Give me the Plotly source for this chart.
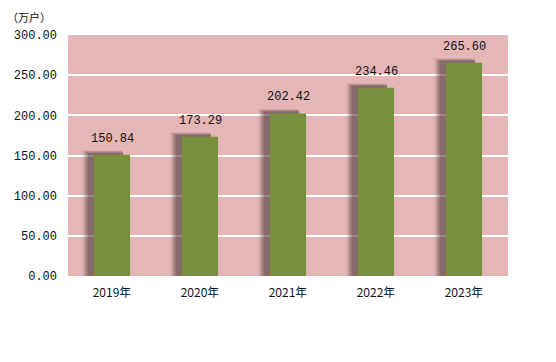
import plotly.graph_objects as go

years = ["2019年", "2020年", "2021年", "2022年", "2023年"]
values = [150.84, 173.29, 202.42, 234.46, 265.60]
labels = ["150.84", "173.29", "202.42", "234.46", "265.60"]

W = 0.41
fig = go.Figure()

# blurred shadow, approximated with stacked translucent bars
shadow_layers = [(-0.335, 0.45, 5.5, 0.10), (-0.32, 0.44, 4.8, 0.12), (-0.305, 0.43, 4.0, 0.15),
                 (-0.29, 0.42, 3.2, 0.20), (-0.275, 0.40, 2.4, 0.25)]
for off, w, dy, op in shadow_layers:
    fig.add_trace(go.Bar(
        x=years, y=[v + dy for v in values], offset=off, width=w,
        marker=dict(color=f"rgba(80,55,60,{op})", line=dict(width=0)),
        hoverinfo="skip", showlegend=False))

fig.add_trace(go.Bar(
    x=years, y=values, width=W,
    marker=dict(color="#77903e", line=dict(width=0)),
    showlegend=False))

for yr, v, t in zip(years, values, labels):
    fig.add_annotation(x=yr, y=v, text=t, showarrow=False, yshift=16,
                       font=dict(family="Liberation Mono", size=12, color="#111"))

fig.add_annotation(xref="paper", yref="paper", x=-0.14, y=1.0, xanchor="left", yanchor="middle",
                   yshift=18, text="（万户）", showarrow=False, borderpad=0,
                   font=dict(family="Noto Sans CJK SC", size=11, color="#111"))

fig.update_layout(
    width=556, height=362,
    margin=dict(l=60, r=56, t=27, b=94, autoexpand=False),
    paper_bgcolor="white", plot_bgcolor="#e4b6b6",
    barmode="overlay", bargap=0.59,
    xaxis=dict(showgrid=False, showline=False, ticks="", ticklen=0, ticklabelstandoff=8,
               tickfont=dict(family="Noto Sans CJK SC", size=12, color="#111")),
    yaxis=dict(range=[0, 300], dtick=50, tickformat=".2f", showgrid=True,
               gridcolor="white", gridwidth=1.5, zeroline=False, showline=False,
               ticks="", ticklabelstandoff=10,
               tickfont=dict(family="Liberation Mono", size=12, color="#111")),
)

fig.write_html("out.html")
